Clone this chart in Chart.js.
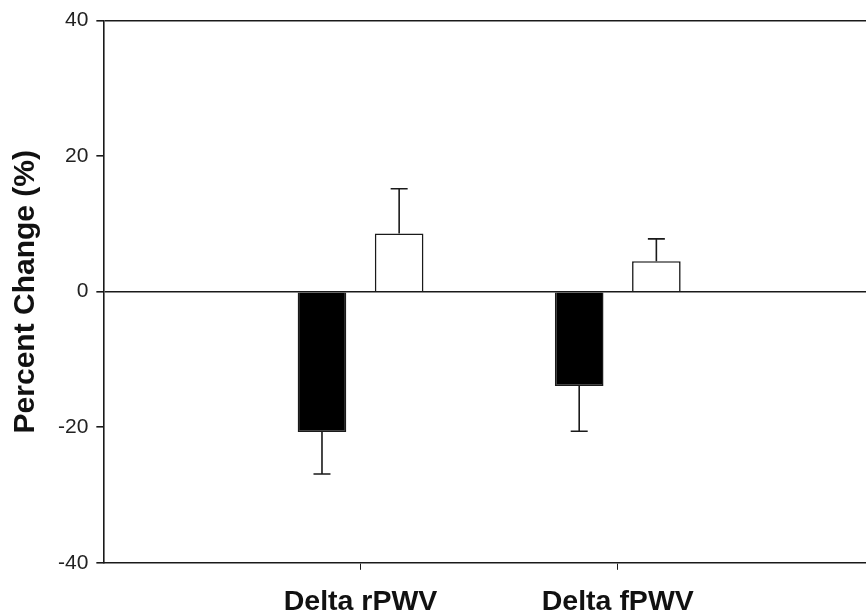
<!DOCTYPE html>
<html>
<head>
<meta charset="utf-8">
<script src="https://cdn.jsdelivr.net/npm/chart.js@4/dist/chart.umd.min.js"></script>
<style>
  html, body { margin: 0; padding: 0; background: #fff; overflow: hidden; }
  #wrap { position: absolute; left: 0; top: 0; }
</style>
</head>
<body>
<div id="wrap"><canvas id="chart" width="890" height="634"></canvas></div>
<script>
/* Percent change bar chart with one-sided error bars */
const categories = ['Delta rPWV', 'Delta fPWV'];
const blackValues = [-20.7, -13.9];
const blackErrors = [6.2, 6.7];
const whiteValues = [8.6, 4.5];
const whiteErrors = [6.6, 3.3];
const yTicks = [-40, -20, 0, 20, 40];

// empty slot on each side so the groups sit where the original plot put them
const labels = ['', ...categories, ''];
const pad = arr => [null, ...arr, null];

const INK = '#1a1a1a';
const FONT = "'Liberation Sans', Arial, sans-serif";

const errorBars = {
    id: 'errorBars',
    afterDatasetsDraw(chart) {
        const { ctx } = chart;
        const y = chart.scales.y;
        ctx.save();
        ctx.strokeStyle = INK;
        ctx.lineWidth = 1.6;
        chart.data.datasets.forEach((ds, di) => {
            const meta = chart.getDatasetMeta(di);
            meta.data.forEach((bar, i) => {
                const v = ds.data[i], e = ds.errors[i];
                if (v == null || e == null) return;
                const end = y.getPixelForValue(v < 0 ? v - e : v + e);
                ctx.beginPath();
                ctx.moveTo(bar.x, bar.y);
                ctx.lineTo(bar.x, end);
                ctx.moveTo(bar.x - 8.5, end);
                ctx.lineTo(bar.x + 8.5, end);
                ctx.stroke();
            });
        });
        ctx.restore();
    }
};

new Chart(document.getElementById('chart').getContext('2d'), {
    type: 'bar',
    data: {
        labels: labels,
        datasets: [
            { data: pad(blackValues), errors: pad(blackErrors), backgroundColor: '#000', borderColor: INK, borderWidth: 1.5 },
            { data: pad(whiteValues), errors: pad(whiteErrors), backgroundColor: '#fff', borderColor: INK, borderWidth: 1.6 }
        ]
    },
    options: {
        responsive: false,
        animation: false,
        categoryPercentage: 0.6,
        barPercentage: 0.63,
        layout: { padding: { left: 8, top: 10, right: 9, bottom: 0 } },
        plugins: { legend: { display: false }, tooltip: { enabled: false } },
        scales: {
            x: {
                offset: false,
                border: { color: INK, width: 1.6 },
                grid: {
                    offset: false,
                    drawOnChartArea: false,
                    color: INK,
                    tickColor: c => (c.index === 0 ? 'rgba(0,0,0,0)' : INK),
                    tickLength: 7
                },
                ticks: { color: '#111', padding: 15, maxRotation: 0, autoSkip: false, font: { family: FONT, size: 28.5, weight: 'bold' } }
            },
            y: {
                min: yTicks[0],
                max: yTicks[yTicks.length - 1],
                afterBuildTicks: axis => { axis.ticks = yTicks.map(v => ({ value: v })); },
                border: { color: INK, width: 1.6 },
                grid: {
                    color: c => (c.tick && (c.tick.value === 0 || c.tick.value === 40)) ? INK : 'rgba(0,0,0,0)',
                    lineWidth: 1.6,
                    tickColor: INK,
                    tickLength: 7
                },
                ticks: { color: '#222', padding: 8, font: { family: FONT, size: 21 } },
                title: { display: true, text: 'Percent Change (%)', color: '#111', padding: { top: 0, bottom: 6 }, font: { family: FONT, size: 30, weight: 'bold' } }
            }
        }
    },
    plugins: [errorBars]
});
</script>
</body>
</html>
